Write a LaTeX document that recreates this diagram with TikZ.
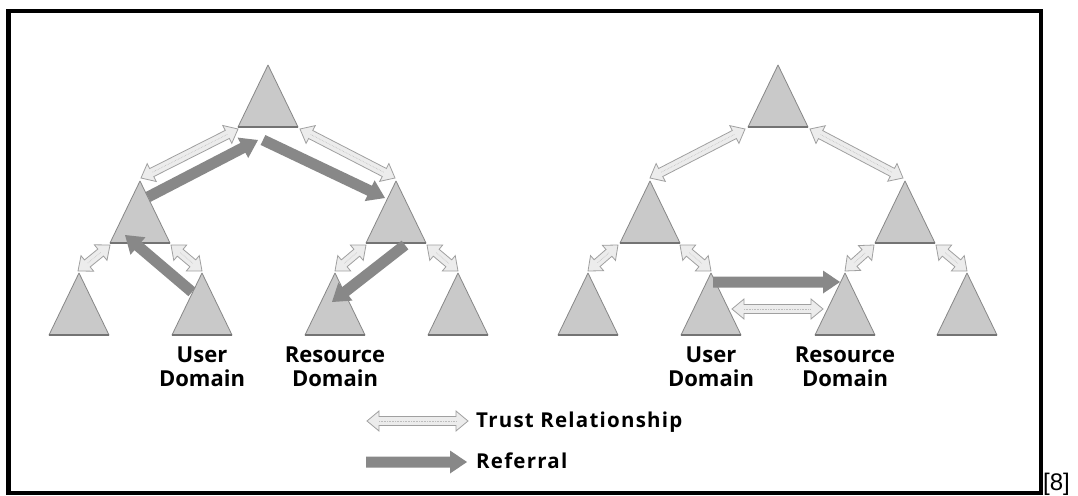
\documentclass[tikz,border=0pt]{standalone}
\usepackage{fontspec}
\setmainfont{Open Sans}
\newfontfamily\legfont{Open Sans}[LetterSpace=6]
\newfontfamily\refont{Liberation Sans}
\usetikzlibrary{calc}
\definecolor{trifill}{RGB}{201,201,201}
\definecolor{triedge}{RGB}{135,135,135}
\definecolor{tribase}{RGB}{115,115,115}
\definecolor{refc}{RGB}{136,136,136}
\definecolor{trustfill}{RGB}{236,236,236}
\definecolor{trustedge}{RGB}{160,160,160}
\tikzset{
  tri/.style={fill=trifill, draw=triedge, line width=0.8pt, line join=round},
  tribaseline/.style={draw=tribase, line width=1.8pt},
  referral/.style={fill=refc},
  trust/.style={fill=trustfill, draw=trustedge, line width=0.8pt},
  trustdots/.style={draw=trustedge!70, line width=0.6pt, densely dotted},
  lbl/.style={font=\bfseries\fontsize{22}{24}\selectfont, align=center, inner sep=0pt},
  leg/.style={font=\legfont\bfseries\fontsize{20.5}{22}\selectfont, anchor=base west, inner sep=0pt},
}
\newcommand\domain[2]{%
  \coordinate (#1) at (#2);
  \coordinate (#1-l) at ($(#1)+(-30,62)$);
  \coordinate (#1-r) at ($(#1)+(30,62)$);
  \path[tri] (#1) -- (#1-l) -- (#1-r) -- cycle;
  \draw[tribaseline] (#1-l) -- (#1-r);
}
\newcommand\refarrow[2]{%
  \path[referral] let \p1=(#1), \p2=(#2),
    \n1={atan2(\y2-\y1,\x2-\x1)}, \n2={veclen(\x2-\x1,\y2-\y1)} in
    ($(\p1)+(\n1+90:5.5pt)$) -- ($(\p1)+(\n1:\n2-17pt)+(\n1+90:5.5pt)$)
    -- ($(\p1)+(\n1:\n2-17pt)+(\n1+90:11.5pt)$) -- (\p2)
    -- ($(\p1)+(\n1:\n2-17pt)+(\n1-90:11.5pt)$) -- ($(\p1)+(\n1:\n2-17pt)+(\n1-90:5.5pt)$)
    -- ($(\p1)+(\n1-90:5.5pt)$) -- cycle;
}
\newcommand\trustarrow[2]{%
  \path[trust] let \p1=(#1), \p2=(#2),
    \n1={atan2(\y2-\y1,\x2-\x1)}, \n2={veclen(\x2-\x1,\y2-\y1)} in
    (\p1) -- ($(\p1)+(\n1:12pt)+(\n1+90:10pt)$) -- ($(\p1)+(\n1:12pt)+(\n1+90:4.5pt)$)
    -- ($(\p1)+(\n1:\n2-12pt)+(\n1+90:4.5pt)$) -- ($(\p1)+(\n1:\n2-12pt)+(\n1+90:10pt)$)
    -- (\p2)
    -- ($(\p1)+(\n1:\n2-12pt)+(\n1-90:10pt)$) -- ($(\p1)+(\n1:\n2-12pt)+(\n1-90:4.5pt)$)
    -- ($(\p1)+(\n1:12pt)+(\n1-90:4.5pt)$) -- ($(\p1)+(\n1:12pt)+(\n1-90:10pt)$) -- cycle;
  \path[trustdots] let \p1=(#1), \p2=(#2),
    \n1={atan2(\y2-\y1,\x2-\x1)}, \n2={veclen(\x2-\x1,\y2-\y1)} in
    ($(\p1)+(\n1:12pt)$) -- ($(\p1)+(\n1:\n2-12pt)$);
}
\begin{document}
\begin{tikzpicture}[x=1pt, y=-1pt]
\useasboundingbox (0,0) rectangle (1078,495);
\fill[white] (0,0) rectangle (1078,495);
\draw[line width=4.5pt] (8.5,11) rectangle (1041,493);

% left tree
\domain{LT}{268,65}
\domain{LMa}{140,181}
\domain{LMb}{396,181}
\domain{LBa}{79,273}
\domain{LBb}{202,273}
\domain{LBc}{335,273}
\domain{LBd}{458,273}
% right tree
\domain{RT}{778,65}
\domain{RMa}{650,181}
\domain{RMb}{905,181}
\domain{RBa}{588,273}
\domain{RBb}{711,273}
\domain{RBc}{845,273}
\domain{RBd}{967,273}

% trust relationships, left tree
\trustarrow{$(LT-l)+(0,2)$}{$(LMa)+(1,-3)$}
\trustarrow{$(LT-r)+(2,2)$}{$(LMb)+(-1,-3)$}
\trustarrow{$(LMa-l)+(0,2)$}{$(LBa)+(-1,-2)$}
\trustarrow{$(LMa-r)+(1,2)$}{$(LBb)+(0,-2)$}
\trustarrow{$(LMb-l)+(0,2)$}{$(LBc)+(0,-2)$}
\trustarrow{$(LMb-r)+(1,2)$}{$(LBd)+(0,-2)$}
% trust relationships, right tree
\trustarrow{$(RT-l)+(-3,2)$}{$(RMa)+(0,-3)$}
\trustarrow{$(RT-r)+(2,2)$}{$(RMb)+(-2,-3)$}
\trustarrow{$(RMa-l)+(-2,2)$}{$(RBa)+(0,-2)$}
\trustarrow{$(RMa-r)+(0,2)$}{$(RBb)+(0,-2)$}
\trustarrow{$(RMb-l)+(-1,2)$}{$(RBc)+(0,-2)$}
\trustarrow{$(RMb-r)+(1,2)$}{$(RBd)+(0,-2)$}
\trustarrow{$(RBb)+(21,36)$}{$(RBc)+(-22,36)$}

% referrals
\refarrow{$(LMa)+(8,16)$}{$(LT)+(-10,75)$}
\refarrow{$(LT)+(-5,75)$}{$(LMb)+(-11,17)$}
\refarrow{$(LBb)+(-10,19)$}{$(LMa)+(-15,54)$}
\refarrow{$(LMb)+(9,64)$}{$(LBc)+(-3,29)$}
\refarrow{$(RBb)+(2,9)$}{$(RBc)+(-5,9)$}

% labels
\node[lbl] (lu) at (202,367) {User\\Domain};
\node[lbl] (lr) at (335,367) {Resource\\Domain};
\node[lbl] (ru) at (711,367) {User\\Domain};
\node[lbl] (rr) at (845,367) {Resource\\Domain};

% legend
\coordinate (legTa) at (367,421);
\coordinate (legTb) at (468,421);
\coordinate (legRa) at (366,462);
\coordinate (legRb) at (467,462);
\trustarrow{legTa}{legTb}
\refarrow{legRa}{legRb}
\node[leg] (legT) at (476,427) {Trust Relationship};
\node[leg] (legR) at (476,468) {Referral};

\node[anchor=base west, inner sep=0pt, font=\refont\fontsize{24}{26}\selectfont] (cite) at (1043,490) {[8]};
\end{tikzpicture}
\end{document}
